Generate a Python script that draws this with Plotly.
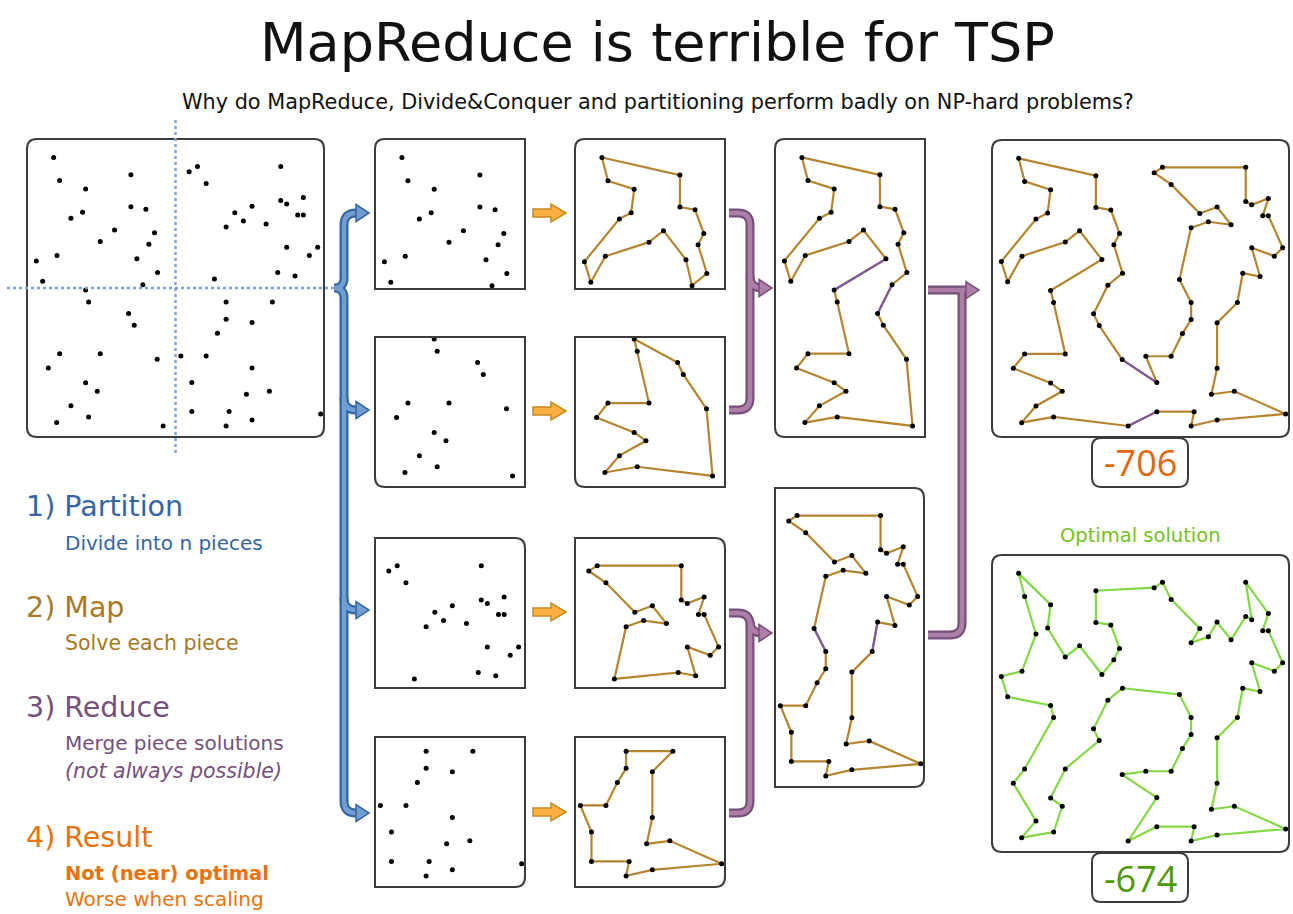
import plotly.graph_objects as go

W, H = 1293, 914

# ---------------- data ----------------
# city coordinates (x to the right, y downward) inside the square 20..912 x 15..905
pts_x = [100, 332, 332, 377, 403, 386, 412, 368, 350, 283, 240, 110, 67, 48, 152, 187, 196, 118,
         196, 325, 342, 411, 429, 205, 109, 152, 231, 196, 84, 118, 240, 205,
         532, 782, 782, 800, 850, 833, 850, 893, 868, 800, 825, 773, 583, 618, 670, 738, 696, 644, 558, 507,
         618, 757, 696, 696, 679, 748, 902, 696, 618, 627, 515, 515, 482, 558, 592, 618]
pts_y = [70, 122, 217, 225, 295, 329, 414, 450, 373, 287, 321, 363, 440, 379, 252, 234, 164, 139,
         466, 536, 571, 673, 872, 845, 862, 812, 768, 743, 699, 656, 656, 502,
         97, 97, 199, 209, 190, 242, 242, 338, 363, 338, 424, 414, 433, 278, 260, 269, 216, 235, 148, 113,
         502, 502, 563, 699, 777, 768, 836, 854, 872, 829, 829, 742, 663, 663, 595, 553]

# tours (city index order, closed)
map_tl = [0, 1, 2, 3, 4, 5, 6, 7, 8, 9, 10, 11, 12, 13, 14, 15, 16, 17]
map_bl = [18, 19, 20, 21, 22, 23, 24, 25, 26, 27, 28, 29, 30, 31]
map_tr = [32, 33, 34, 35, 36, 37, 38, 39, 40, 41, 42, 43, 44, 45, 46, 47, 48, 49, 50, 51]
map_br = [52, 53, 54, 55, 56, 57, 58, 59, 60, 61, 62, 63, 64, 65, 66, 67]
reduce_left = [0, 1, 2, 3, 4, 5, 6, 7, 19, 20, 21, 22, 23, 24, 25, 26, 27, 28, 29, 30, 31, 18,
               8, 9, 10, 11, 12, 13, 14, 15, 16, 17]
reduce_right = [32, 33, 34, 35, 36, 37, 38, 39, 40, 41, 42, 43, 53, 54, 55, 56, 57, 58, 59, 60, 61,
                62, 63, 64, 65, 66, 67, 52, 44, 45, 46, 47, 48, 49, 50, 51]
result_tour = [0, 1, 2, 3, 4, 5, 6, 7, 19, 20, 21, 63, 64, 65, 66, 67, 52, 44, 45, 46, 47, 48, 49, 50, 51,
               32, 33, 34, 35, 36, 37, 38, 39, 40, 41, 42, 43, 53, 54, 55, 56, 57, 58, 59, 60, 61, 62,
               22, 23, 24, 25, 26, 27, 28, 29, 30, 31, 18, 8, 9, 10, 11, 12, 13, 14, 15, 16, 17]
optimal_tour = [0, 16, 15, 10, 9, 8, 5, 4, 3, 2, 1, 51, 32, 50, 49, 45, 46, 48, 47, 34, 35, 33, 36, 37,
                38, 39, 40, 41, 42, 43, 53, 54, 55, 56, 57, 58, 59, 60, 61, 62, 22, 63, 21, 64, 65, 66,
                67, 52, 44, 6, 7, 19, 20, 30, 27, 26, 23, 24, 25, 28, 29, 31, 18, 12, 13, 11, 14, 17]

result_score = "-706"
optimal_score = "-674"

title_text = "MapReduce is terrible for TSP"
subtitle_text = "Why do MapReduce, Divide&Conquer and partitioning perform badly on NP-hard problems?"
steps = [
    ("1) Partition", ["Divide into n pieces"], "#3465a4"),
    ("2) Map", ["Solve each piece"], "#a67a26"),
    ("3) Reduce", ["Merge piece solutions", "<i>(not always possible)</i>"], "#75507b"),
    ("4) Result", ["<b>Not (near) optimal</b>", "Worse when scaling"], "#e8720c"),
]

# ---------------- styles ----------------
FONT = "DejaVu Sans, Verdana, sans-serif"
NUM_FONT = "Open Sans, Liberation Sans, Arial, sans-serif"
TOUR_COL = "#b4852e"
MERGE_COL = "#7d5a9c"
OPT_COL = "#84d844"
BORDER = "#3c3c3c"

X_ALL = [20, 912]
Y_ALL = [905, 15]
X_L, X_R = [20, 466], [466, 912]
Y_T, Y_B = [460, 15], [905, 460]


def X(p):
    return p / W


def Y(p):
    return 1 - p / H


def edges(cycle):
    n = len(cycle)
    return {frozenset((cycle[i], cycle[(i + 1) % n])) for i in range(n)}


panels = [
    dict(box=(27, 139, 324, 437), xr=X_ALL, yr=Y_ALL, rc="tl tr bl br", kind="pts", ids=list(range(len(pts_x)))),
    dict(box=(375, 139, 525, 289), xr=X_L, yr=Y_T, rc="tl", kind="pts", ids=map_tl),
    dict(box=(375, 337, 525, 487), xr=X_L, yr=Y_B, rc="bl", kind="pts", ids=map_bl),
    dict(box=(375, 538, 525, 688), xr=X_R, yr=Y_T, rc="tr", kind="pts", ids=map_tr),
    dict(box=(375, 737, 525, 887), xr=X_R, yr=Y_B, rc="br", kind="pts", ids=map_br),
    dict(box=(575, 139, 725, 289), xr=X_L, yr=Y_T, rc="tl", kind="tour", tour=map_tl, base=[map_tl], col=TOUR_COL),
    dict(box=(575, 337, 725, 487), xr=X_L, yr=Y_B, rc="bl", kind="tour", tour=map_bl, base=[map_bl], col=TOUR_COL),
    dict(box=(575, 538, 725, 688), xr=X_R, yr=Y_T, rc="tr", kind="tour", tour=map_tr, base=[map_tr], col=TOUR_COL),
    dict(box=(575, 737, 725, 887), xr=X_R, yr=Y_B, rc="br", kind="tour", tour=map_br, base=[map_br], col=TOUR_COL),
    dict(box=(775, 139, 925, 437), xr=X_L, yr=Y_ALL, rc="tl bl", kind="tour", tour=reduce_left,
         base=[map_tl, map_bl], col=TOUR_COL),
    dict(box=(775, 488, 924, 787), xr=X_R, yr=Y_ALL, rc="tr br", kind="tour", tour=reduce_right,
         base=[map_tr, map_br], col=TOUR_COL),
    dict(box=(992, 140, 1289, 437), xr=X_ALL, yr=Y_ALL, rc="tl tr bl br", kind="tour", tour=result_tour,
         base=[reduce_left, reduce_right], col=TOUR_COL),
    dict(box=(992, 555, 1289, 852), xr=X_ALL, yr=Y_ALL, rc="tl tr bl br", kind="tour", tour=optimal_tour,
         base=[optimal_tour], col=OPT_COL),
]

fig = go.Figure()
layout_axes = {}


def rrect(box, corners, r=10):
    x0, y0, x1, y1 = box
    rtl = r if "tl" in corners else 0
    rtr = r if "tr" in corners else 0
    rbl = r if "bl" in corners else 0
    rbr = r if "br" in corners else 0
    P = lambda a, b: f"{X(a):.5f},{Y(b):.5f}"
    return (f"M {P(x0 + rtl, y0)} L {P(x1 - rtr, y0)} Q {P(x1, y0)} {P(x1, y0 + rtr)} "
            f"L {P(x1, y1 - rbr)} Q {P(x1, y1)} {P(x1 - rbr, y1)} L {P(x0 + rbl, y1)} "
            f"Q {P(x0, y1)} {P(x0, y1 - rbl)} L {P(x0, y0 + rtl)} Q {P(x0, y0)} {P(x0 + rtl, y0)} Z")


shapes = []
for k, p in enumerate(panels, start=1):
    xa = "x" if k == 1 else f"x{k}"
    ya = "y" if k == 1 else f"y{k}"
    x0, y0, x1, y1 = p["box"]
    layout_axes["xaxis" if k == 1 else f"xaxis{k}"] = dict(
        domain=[X(x0), X(x1)], range=p["xr"], visible=False, anchor=ya, fixedrange=True)
    layout_axes["yaxis" if k == 1 else f"yaxis{k}"] = dict(
        domain=[Y(y1), Y(y0)], range=p["yr"], visible=False, anchor=xa, fixedrange=True)
    shapes.append(dict(type="path", xref="paper", yref="paper", path=rrect(p["box"], p["rc"]),
                       line=dict(color=BORDER, width=2), fillcolor="rgba(0,0,0,0)", layer="above"))
    if p["kind"] == "pts":
        ids = p["ids"]
    else:
        t = p["tour"]
        ids = t
        cx = [pts_x[i] for i in t] + [pts_x[t[0]]]
        cy = [pts_y[i] for i in t] + [pts_y[t[0]]]
        fig.add_trace(go.Scatter(x=cx, y=cy, mode="lines", xaxis=xa, yaxis=ya,
                                 line=dict(color=p["col"], width=2.2), hoverinfo="skip"))
        base = set()
        for b in p["base"]:
            base |= edges(b)
        new = [tuple(e) for e in edges(t) if e not in base]
        mx, my = [], []
        for a, b in new:
            mx += [pts_x[a], pts_x[b], None]
            my += [pts_y[a], pts_y[b], None]
        if new:
            fig.add_trace(go.Scatter(x=mx, y=my, mode="lines", xaxis=xa, yaxis=ya,
                                     line=dict(color=MERGE_COL, width=2.2), hoverinfo="skip"))
    fig.add_trace(go.Scatter(x=[pts_x[i] for i in ids], y=[pts_y[i] for i in ids], mode="markers",
                             xaxis=xa, yaxis=ya, marker=dict(color="black", size=5), hoverinfo="skip"))

# partition cut lines on the first panel
shapes.append(dict(type="line", xref="x", yref="paper", x0=466, x1=466, y0=Y(120), y1=Y(453),
                   line=dict(color="#7ea3d4", width=2.5, dash="dot")))
shapes.append(dict(type="line", xref="paper", yref="y", x0=X(7), x1=X(334), y0=460, y1=460,
                   line=dict(color="#7ea3d4", width=2.5, dash="dot")))


def path(cmds):
    out = []
    for c in cmds:
        if isinstance(c, str):
            out.append(c)
        else:
            out.append(f"{X(c[0]):.5f},{Y(c[1]):.5f}")
    return " ".join(out)


def stroke(cmds, dark, light):
    shapes.append(dict(type="path", xref="paper", yref="paper", path=path(cmds),
                       line=dict(color=dark, width=9), fillcolor="rgba(0,0,0,0)"))
    return dict(type="path", xref="paper", yref="paper", path=path(cmds),
                line=dict(color=light, width=4.5), fillcolor="rgba(0,0,0,0)")


def head(x, y, fill, dark, L=13, h=8.5):
    return dict(type="path", xref="paper", yref="paper",
                path=path(["M", (x - L, y - h), "L", (x, y), "L", (x - L, y + h), "Z"]),
                line=dict(color=dark, width=1.5), fillcolor=fill)


# blue partition bracket
BD, BL = "#3465a4", "#729fcf"
bx = 344
blue_paths = [
    ["M", (358, 213), "L", (356, 213), "Q", (bx, 213), (bx, 225), "L", (bx, 278), "Q", (bx, 288), (334, 288),
     "Q", (bx, 288), (bx, 298), "L", (bx, 801), "Q", (bx, 813), (356, 813), "L", (358, 813)],
    ["M", (bx, 398), "Q", (bx, 410), (356, 410), "L", (358, 410)],
    ["M", (bx, 598), "Q", (bx, 610), (356, 610), "L", (358, 610)],
]
lights = [stroke(c, BD, BL) for c in blue_paths]
shapes += lights
for yy in (213, 410, 610, 813):
    shapes.append(head(369, yy, BL, BD))

# orange map arrows
for yy in (213, 411, 612, 812):
    shapes.append(dict(type="path", xref="paper", yref="paper",
                       path=path(["M", (533, yy - 4), "L", (551, yy - 4), "L", (551, yy - 9), "L", (566, yy),
                                  "L", (551, yy + 9), "L", (551, yy + 4), "L", (533, yy + 4), "Z"]),
                       line=dict(color="#c88a1c", width=1.5), fillcolor="#fcb041"))

# purple reduce brackets
PD, PL = "#75507b", "#ad7fa8"
px_ = 750
purple_paths = [
    ["M", (729, 213), "L", (738, 213), "Q", (px_, 213), (px_, 225), "L", (px_, 398), "Q", (px_, 410), (738, 410),
     "L", (729, 410)],
    ["M", (px_, 276), "Q", (px_, 288), (762, 288)],
    ["M", (729, 613), "L", (738, 613), "Q", (px_, 613), (px_, 625), "L", (px_, 801), "Q", (px_, 813), (738, 813),
     "L", (729, 813)],
    ["M", (px_, 621), "Q", (px_, 633), (762, 633)],
    ["M", (928, 290), "L", (966, 290)],
    ["M", (962, 290), "L", (962, 623), "Q", (962, 635), (950, 635), "L", (928, 635)],
]
lights = [stroke(c, PD, PL) for c in purple_paths]
shapes += lights
shapes.append(head(772, 288, PL, PD))
shapes.append(head(772, 633, PL, PD))
shapes.append(head(979, 290, PL, PD))

# score boxes
shapes.append(dict(type="path", xref="paper", yref="paper", path=rrect((1092, 438, 1188, 487), "tl tr bl br", 9),
                   line=dict(color=BORDER, width=2), fillcolor="white"))
shapes.append(dict(type="path", xref="paper", yref="paper", path=rrect((1092, 853, 1188, 902), "tl tr bl br", 9),
                   line=dict(color=BORDER, width=2), fillcolor="white"))

ann = []


def text(x, y, s, size, color, xanchor="left", family=FONT):
    ann.append(dict(x=X(x), y=Y(y), xref="paper", yref="paper", text=s, showarrow=False,
                    xanchor=xanchor, yanchor="middle", font=dict(family=family, size=size, color=color)))


text(657, 43, title_text, 54, "#111111", "center")
text(658, 102, subtitle_text, 20.8, "#111111", "center")

sub_sizes = [[20], [20.5], [20, 20.5], [19.5, 20]]
ys = [(507, [543]), (607, [643]), (707, [743, 771]), (837, [873, 899])]
for (head_t, subs, col), (yh, ysub), szs in zip(steps, ys, sub_sizes):
    text(24, yh, head_t, 28.5, col)
    for s, yy, sz in zip(subs, ysub, szs):
        text(63, yy, s, sz, col)

text(1140, 462, result_score, 36, "#e0660f", "center", NUM_FONT)
text(1140, 878, optimal_score, 36, "#4e9a06", "center", NUM_FONT)
text(1140, 535, "Optimal solution", 19.5, "#73c21e", "center")

fig.update_layout(width=W, height=H, margin=dict(l=0, r=0, t=0, b=0), paper_bgcolor="white",
                  plot_bgcolor="rgba(0,0,0,0)", showlegend=False, shapes=shapes, annotations=ann,
                  hovermode=False, **layout_axes)
fig.write_html("out.html", config={"displayModeBar": False},
               post_script="document.body.style.margin='0';document.body.style.overflow='hidden';")
